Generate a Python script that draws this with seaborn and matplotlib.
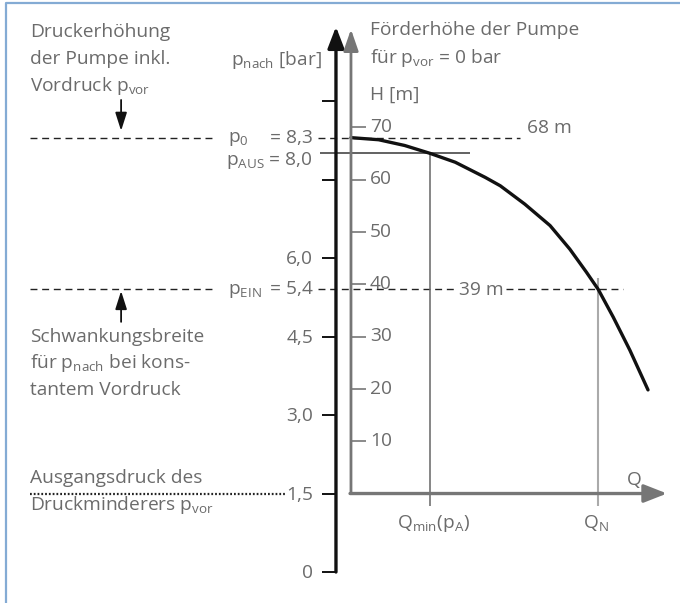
# -*- coding: utf-8 -*-
"""
Druckerhöhung: Pumpenkennlinie mit Druckskala (p_nach) und Förderhöhe (H)
"""

import numpy as np
import matplotlib
matplotlib.use("Agg")
import matplotlib.pyplot as plt
import seaborn as sns

# --- data -------------------------------------------------------------
# pressure scale [bar]
p_ticks = [0, 1.5, 3.0, 4.5, 6.0, 7.5, 9.0]
p_tick_labels = ["0", "1,5", "3,0", "4,5", "6,0", "", ""]
p_vor = 1.5      # Ausgangsdruck des Druckminderers
p_0 = 8.3
p_aus = 8.0
p_ein = 5.4

# head scale [m]
h_ticks = [10, 20, 30, 40, 50, 60, 70]
h_0 = 68
h_n = 39

# pump curve (Q in relative units)
q_curve = [0.0, 0.35, 0.68, 1.0, 1.32, 1.70, 1.89, 2.20, 2.52, 2.77,
           2.98, 3.13, 3.32, 3.53, 3.76]
h_curve = [68.0, 67.6, 66.5, 65.0, 63.3, 60.4, 58.8, 55.3, 51.2, 46.7,
           42.3, 39.0, 33.7, 27.4, 19.8]
q_min = 1.0
q_n = 3.13


def to_p(h):
    """Förderhöhe [m] -> p_nach [bar] (10 m ~ 1 bar, plus Vordruck)"""
    return p_vor + np.asarray(h, dtype=float) / 10.0


# --- style ------------------------------------------------------------
sns.set_style("white")
plt.rcParams['font.family'] = ['Open Sans', 'DejaVu Sans']
plt.rcParams['mathtext.fontset'] = 'custom'
plt.rcParams['mathtext.rm'] = 'Open Sans'
plt.rcParams['mathtext.default'] = 'regular'

TXT = '#6b6b6b'
FS = 13.8
AX_GREY = '#767676'

fig = plt.figure(figsize=(6.8, 6.03), dpi=100)
ax = fig.add_axes([0, 0, 1, 1])
ax.set_xlim(-4.443, 4.165)
ax.set_ylim(-0.592, 10.93)
ax.axis('off')

# frame (left + top only)
ax.plot([0.0088, 0.0088, 1.0], [0.0, 0.995, 0.995], transform=ax.transAxes,
        color='#84abd4', lw=1.6, solid_capstyle='butt')

# --- pressure axis (black) --------------------------------------------
x_p = -0.19
ax.annotate('', xy=(x_p, 10.42), xytext=(x_p, p_ticks[0]),
            arrowprops=dict(arrowstyle='-|>,head_length=1.3,head_width=0.5',
                            lw=2.4, color='#111111', shrinkA=0, shrinkB=0,
                            mutation_scale=10))
ax.hlines(p_ticks, x_p - 0.18, x_p, color='#111111', lw=1.4)
for p, lab in zip(p_ticks, p_tick_labels):
    if lab:
        ax.text(-0.48, p - 0.12, lab, ha='right', va='baseline', color=TXT, fontsize=FS)
ax.text(-0.367, 9.69, r"$p_{nach}$ [bar]", ha='right', va='baseline', color=TXT, fontsize=FS)

# --- head axis (grey) + Q axis -----------------------------------------
ax.annotate('', xy=(0, 10.37), xytext=(0, p_vor),
            arrowprops=dict(arrowstyle='-|>,head_length=1.3,head_width=0.45',
                            lw=2.0, color=AX_GREY, shrinkA=0, shrinkB=0,
                            mutation_scale=10))
ax.annotate('', xy=(4.0, p_vor), xytext=(-0.012, p_vor),
            arrowprops=dict(arrowstyle='-|>,head_length=1.4,head_width=0.55',
                            lw=2.4, color=AX_GREY, shrinkA=0, shrinkB=0,
                            mutation_scale=10))
ax.hlines(to_p(h_ticks), 0, 0.19, color='#8a8a8a', lw=1.4)
for h in h_ticks:
    ax.text(0.24, to_p(h) - 0.09, str(h), ha='left', va='baseline', color=TXT, fontsize=FS)
ax.text(0.24, 10.26, u"Förderhöhe der Pumpe", ha='left', va='baseline', color=TXT, fontsize=FS)
ax.text(0.24, 9.73, r"für $p_{vor}$ = 0 bar", ha='left', va='baseline', color=TXT, fontsize=FS)
ax.text(0.24, 9.02, "H [m]", ha='left', va='baseline', color=TXT, fontsize=FS)
ax.text(3.49, 1.67, "Q", ha='left', va='baseline', color=TXT, fontsize=FS, zorder=5)

# --- guide lines ------------------------------------------------------
dash = (0, (5, 3.4))
# p_0 / 68 m
ax.hlines(p_0, -4.06, -1.72, color='#222222', lw=1.0, linestyles=[dash])
ax.hlines(to_p(h_0), -0.42, 2.14, color='#222222', lw=1.0, linestyles=[dash])
# p_EIN / 39 m
ax.hlines(p_ein, -4.06, -1.72, color='#222222', lw=1.0, linestyles=[dash])
ax.hlines(to_p(h_n), -0.42, 1.33, color='#222222', lw=1.0, linestyles=[dash])
ax.hlines(to_p(h_n), 1.96, 3.44, color='#222222', lw=1.0, linestyles=[dash])
# p_vor dotted
ax.hlines(p_vor, -4.06, -0.84, color='#222222', lw=1.6, linestyles=[(0, (0.8, 0.9))])
# p_AUS solid
ax.hlines(p_aus, -0.39, 1.506, color='#555555', lw=1.3)

# Q markers
ax.vlines(q_min, 1.27, p_aus + 0.02, color='#666666', lw=1.1)
ax.vlines(q_n, 1.27, 5.62, color='#aaaaaa', lw=1.5)

# --- pump curve -------------------------------------------------------
sns.lineplot(x=q_curve, y=to_p(h_curve), color='#111111', lw=2.4, ax=ax,
             sort=True, legend=False)

# --- labels on the guide lines ----------------------------------------
ax.text(-1.557, p_0 - 0.08, r"$p_0$", ha='left', va='baseline', color=TXT, fontsize=FS)
ax.text(-0.48, p_0 - 0.11, "= 8,3", ha='right', va='baseline', color=TXT, fontsize=FS)
ax.text(-0.48, p_aus - 0.22, r"$p_{AUS}$ = 8,0", ha='right', va='baseline', color=TXT, fontsize=FS)
ax.text(-1.557, p_ein - 0.09, r"$p_{EIN}$", ha='left', va='baseline', color=TXT, fontsize=FS)
ax.text(-0.48, p_ein - 0.09, "= 5,4", ha='right', va='baseline', color=TXT, fontsize=FS)
ax.text(2.23, to_p(h_0) + 0.09, "%d m" % h_0, ha='left', va='baseline', color=TXT, fontsize=FS)
ax.text(1.645, to_p(h_n) - 0.10, "%d m" % h_n, ha='center', va='baseline', color=TXT, fontsize=FS)
ax.text(q_min + 0.05, 0.84, r"$Q_{min}(p_A)$", ha='center', va='baseline', color=TXT, fontsize=FS)
ax.text(q_n - 0.03, 0.84, r"$Q_N$", ha='center', va='baseline', color=TXT, fontsize=FS)

# --- side notes -------------------------------------------------------
notes = [
    (u"Druckerhöhung", 10.22),
    (u"der Pumpe inkl.", 9.71),
    (r"Vordruck $p_{vor}$", 9.19),
    ("Schwankungsbreite", 4.40),
    (r"für $p_{nach}$ bei kons-", 3.90),
    ("tantem Vordruck", 3.38),
    ("Ausgangsdruck des", 1.70),
    (r"Druckminderers $p_{vor}$", 1.18),
]
for s, y in notes:
    ax.text(-4.06, y, s, ha='left', va='baseline', color=TXT, fontsize=FS)

# small arrows towards the switching levels
ax.annotate('', xy=(-2.91, p_0 + 0.13), xytext=(-2.91, 9.02),
            arrowprops=dict(arrowstyle='-|>,head_length=1.1,head_width=0.35',
                            lw=1.3, color='#111111', shrinkA=0, shrinkB=0,
                            mutation_scale=10))
ax.annotate('', xy=(-2.91, p_ein - 0.03), xytext=(-2.91, 4.78),
            arrowprops=dict(arrowstyle='-|>,head_length=1.1,head_width=0.35',
                            lw=1.3, color='#111111', shrinkA=0, shrinkB=0,
                            mutation_scale=10))

fig.savefig('out.png', dpi=100)
